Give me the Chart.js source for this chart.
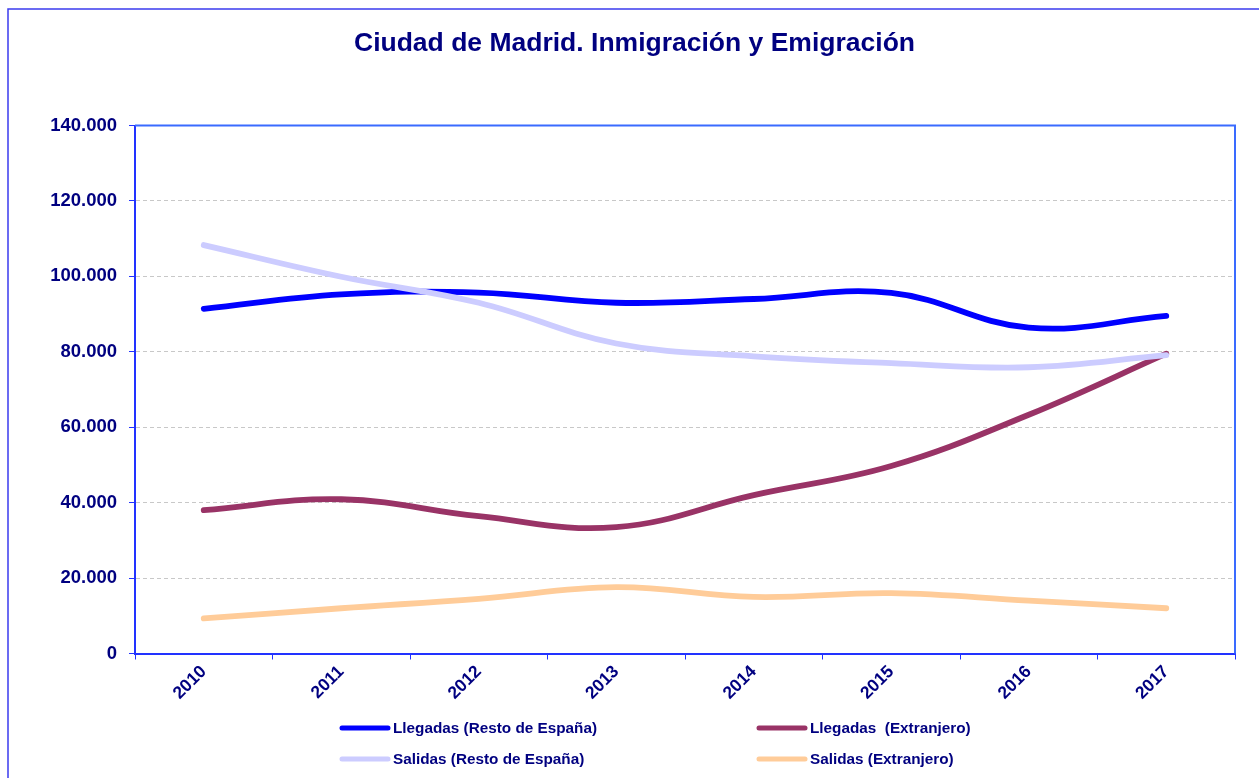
<!DOCTYPE html>
<html>
<head>
<meta charset="utf-8">
<script src="https://cdn.jsdelivr.net/npm/chart.js@4"></script>
<style>
  html, body { margin: 0; padding: 0; background: #fff; }
  #wrap { width: 1259px; height: 778px; position: relative; }
</style>
</head>
<body>
<div id="wrap"><canvas id="myChart"></canvas></div>
<script>
// datos
const years = ['2010', '2011', '2012', '2013', '2014', '2015', '2016', '2017'];
const llegadasResto = [91400, 95200, 95700, 93000, 94000, 95600, 86400, 89500];
const llegadasExtranjero = [38000, 40900, 36400, 33500, 42000, 49700, 63300, 79500];
const salidasResto = [108300, 99900, 93000, 82200, 78800, 77000, 75900, 79100];
const salidasExtranjero = [9300, 12000, 14500, 17600, 15000, 16000, 14000, 12000];
const yTicks = [0, 20000, 40000, 60000, 80000, 100000, 120000, 140000];

const FONT = "'Liberation Sans', Arial, sans-serif";
const NAVY = '#000080';
const AXIS = '#2233ff';

const fmt = v => String(v).replace(/\B(?=(\d{3})+(?!\d))/g, '.');

// marco exterior y borde del área de trazado
const marcos = {
  id: 'marcos',
  beforeDraw(chart) {
    const c = chart.ctx;
    c.save();
    c.fillStyle = '#fff';
    c.fillRect(0, 0, chart.width, chart.height);
    c.lineWidth = 1.5;
    c.strokeStyle = '#3b3bee';
    c.beginPath();
    c.moveTo(8, chart.height);
    c.lineTo(8, 9);
    c.lineTo(chart.width, 9);
    c.stroke();
    c.restore();
  },
  beforeDatasetsDraw(chart) {
    const a = chart.chartArea;
    const c = chart.ctx;
    c.save();
    c.lineWidth = 2;
    c.strokeStyle = '#3a6bff';
    c.beginPath();
    c.moveTo(a.left, a.top);
    c.lineTo(a.right, a.top);
    c.lineTo(a.right, a.bottom);
    c.stroke();
    c.restore();
  }
};

// leyenda en dos columnas
const leyenda = {
  id: 'leyenda',
  afterDraw(chart) {
    const c = chart.ctx;
    const cols = [340, 757];
    const rows = [728, 759];
    const pos = [[0, 0], [1, 0], [0, 1], [1, 1]];
    c.save();
    c.font = 'bold 15.3px ' + FONT;
    c.textBaseline = 'middle';
    c.fillStyle = NAVY;
    chart.data.datasets.forEach((ds, i) => {
      const x = cols[pos[i][0]];
      const y = rows[pos[i][1]];
      c.strokeStyle = ds.borderColor;
      c.lineWidth = 5;
      c.lineCap = 'round';
      c.beginPath();
      c.moveTo(x + 2, y);
      c.lineTo(x + 48, y);
      c.stroke();
      c.fillText(ds.label, x + 53, y + 1);
    });
    c.restore();
  }
};

const ctx = document.getElementById('myChart');

new Chart(ctx, {
  type: 'line',
  data: {
    labels: years,
    datasets: [
      { label: 'Llegadas (Resto de España)', data: llegadasResto, borderColor: '#0000ff', order: 3 },
      { label: 'Llegadas  (Extranjero)', data: llegadasExtranjero, borderColor: '#993366', order: 4 },
      { label: 'Salidas (Resto de España)', data: salidasResto, borderColor: '#ccccff', order: 1 },
      { label: 'Salidas (Extranjero)', data: salidasExtranjero, borderColor: '#ffcc99', order: 2 }
    ]
  },
  options: {
    responsive: true,
    maintainAspectRatio: false,
    animation: false,
    layout: { padding: { top: 18, left: 10, right: 0, bottom: 64.5 } },
    elements: {
      line: { borderWidth: 5.8, tension: 0.4, borderCapStyle: 'round', borderJoinStyle: 'round', fill: false },
      point: { radius: 0, hoverRadius: 0 }
    },
    plugins: {
      legend: { display: false },
      tooltip: { enabled: false },
      title: {
        display: true,
        text: 'Ciudad de Madrid. Inmigración y Emigración',
        color: NAVY,
        font: { family: FONT, size: 26.5, weight: 'bold' },
        padding: { top: 10, bottom: 65.7 }
      }
    },
    scales: {
      x: {
        type: 'category',
        offset: true,
        grid: { drawOnChartArea: false, drawTicks: true, tickLength: 6, tickColor: AXIS, offset: true, tickBorderDash: [] },
        border: { color: AXIS, width: 2 },
        ticks: {
          color: NAVY,
          font: { family: FONT, size: 17.5, weight: 'bold' },
          minRotation: 45,
          maxRotation: 45,
          autoSkip: false,
          padding: 2
        },
        afterFit: s => { s.height = 60; }
      },
      y: {
        min: 0,
        max: 140000,
        afterBuildTicks: s => { s.ticks = yTicks.map(v => ({ value: v })); },
        grid: { color: '#c8c8c8', lineWidth: 1, tickLength: 6, tickColor: AXIS, tickBorderDash: [] },
        border: { color: AXIS, width: 2, dash: [4, 3] },
        ticks: {
          color: NAVY,
          font: { family: FONT, size: 18.5, weight: 'bold' },
          padding: 12,
          callback: v => fmt(v)
        },
        afterFit: s => { s.width = 125; }
      },
      yDer: {
        position: 'right',
        display: true,
        min: 0,
        max: 140000,
        grid: { drawOnChartArea: false, drawTicks: false },
        border: { display: false },
        ticks: { display: false },
        afterFit: s => { s.width = 24; }
      }
    }
  },
  plugins: [marcos, leyenda]
});
</script>
</body>
</html>
